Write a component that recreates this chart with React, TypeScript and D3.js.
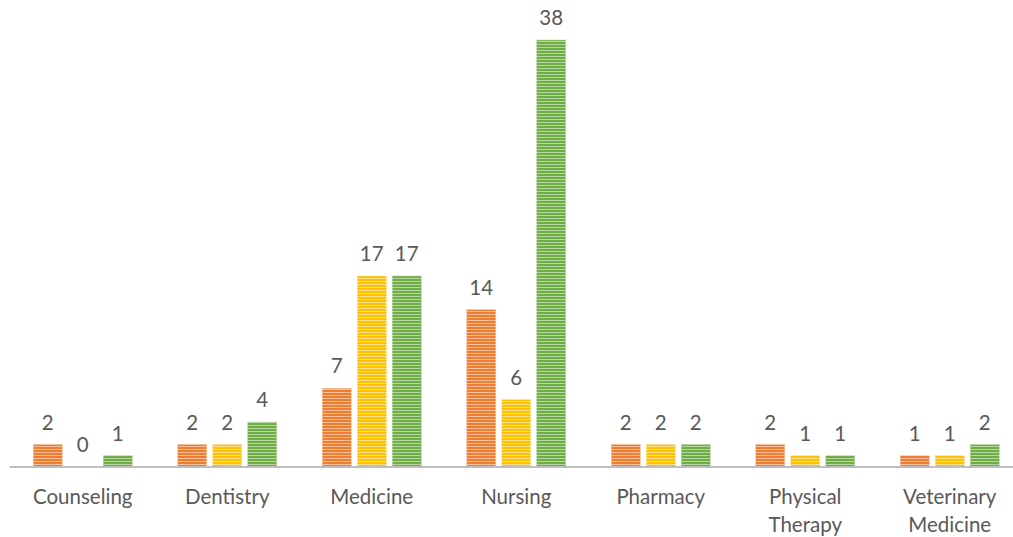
import React from 'react'
import * as d3 from 'd3'

const width = 1013
const height = 537
const margin = { top: 40, right: -9, bottom: 70, left: 10.5 }

const categories = ['Counseling', 'Dentistry', 'Medicine', 'Nursing', 'Pharmacy', 'Physical Therapy', 'Veterinary Medicine']
const seriesNames = ['s1', 's2', 's3']
const series1 = [2, 2, 7, 14, 2, 2, 1]
const series2 = [0, 2, 17, 6, 2, 1, 1]
const series3 = [1, 4, 17, 38, 2, 1, 2]
const colors = ['#ED7D31', '#FFC000', '#70AD47']
const lightColors = ['#F7BE98', '#FFE08A', '#B5D69F']

const allSeries = [series1, series2, series3]
const baseline = 467

const App = () => {
  const x = d3.scaleBand()
    .domain(categories)
    .range([margin.left, width - margin.right])
    .paddingInner(0)
    .paddingOuter(0)

  const groupW = 99
  const inner = d3.scaleBand()
    .domain(seriesNames)
    .range([0, groupW])
    .paddingInner(6 / 35)

  const y = d3.scaleLinear()
    .domain([0, 38])
    .range([baseline, margin.top])

  const font = 'Lato, "Open Sans", sans-serif'

  return (
    <svg width={width} height={height} style={{ position: 'absolute', left: 0, top: 0, background: '#fff' }}>
      <defs>
        {colors.map((c, i) => (
          <pattern key={i} id={`stripe${i}`} width={4} height={3} patternUnits="userSpaceOnUse">
            <rect width={4} height={3} fill={c} />
            <rect y={2} width={4} height={1} fill={lightColors[i]} />
          </pattern>
        ))}
      </defs>

      {categories.map((cat, ci) => {
        const gx = x(cat)! + (x.bandwidth() - groupW) / 2
        return (
          <g key={cat}>
            {allSeries.map((s, si) => {
              const v = s[ci]
              const bx = gx + inner(seriesNames[si])!
              return (
                <g key={si}>
                  {v > 0 && (
                    <rect x={bx} y={y(v)} width={inner.bandwidth()} height={baseline - y(v)}
                      fill={`url(#stripe${si})`} stroke={lightColors[si]} strokeWidth={0.6} />
                  )}
                  <text x={bx + inner.bandwidth() / 2} y={y(v) - 15} textAnchor="middle"
                    fontFamily={font} fontSize={20.5} fill="#595959">{v}</text>
                </g>
              )
            })}
          </g>
        )
      })}

      <line x1={margin.left - 1} x2={width} y1={baseline} y2={baseline} stroke="#BFBFBF" strokeWidth={2} />

      {categories.map(cat => {
        const words = cat.split(' ')
        const cx = x(cat)! + x.bandwidth() / 2
        return (
          <text key={cat} x={cx} y={504} textAnchor="middle" fontFamily={font} fontSize={20.5} fill="#595959">
            {words.map((w, i) => (
              <tspan key={i} x={cx} dy={i === 0 ? 0 : 28}>{w}</tspan>
            ))}
          </text>
        )
      })}
    </svg>
  )
}

export default App
